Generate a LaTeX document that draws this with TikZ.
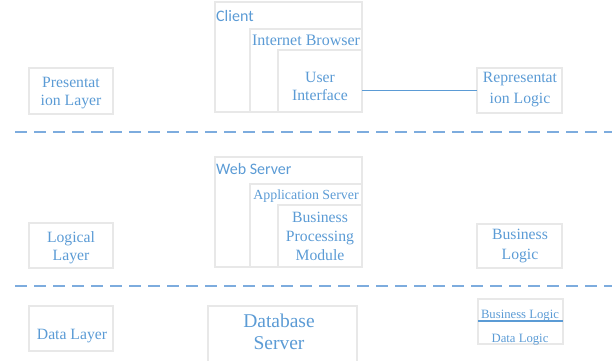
\documentclass[tikz,border=0pt]{standalone}
\usepackage{fontspec}
\setmainfont{Liberation Serif}
\newfontfamily\calib{Carlito}
\definecolor{txtblue}{RGB}{91,155,213}
\definecolor{dashblue}{RGB}{125,172,222}
\definecolor{boxgray}{RGB}{232,232,232}
\definecolor{lineblue}{RGB}{91,155,213}
\begin{document}
\begin{tikzpicture}[x=1pt,y=-1pt,
  box/.style={draw=boxgray, line width=1.3pt, rectangle, inner sep=0pt, outer sep=0pt, anchor=north west},
  lbl/.style={text=txtblue, inner sep=0pt, anchor=base, font=\fontsize{15.7}{18}\selectfont},
  sanslbl/.style={text=txtblue, inner sep=0pt, anchor=base west, font=\calib\fontsize{16}{18}\selectfont},
  smalllbl/.style={text=txtblue, inner sep=0pt, anchor=base, font=\fontsize{12.7}{15}\selectfont},
  biglbl/.style={text=txtblue, inner sep=0pt, anchor=base, font=\fontsize{19.5}{22}\selectfont},
  sep/.style={draw=dashblue, line width=2pt, dash pattern=on 12pt off 7pt},
  conn/.style={draw=lineblue, line width=1.3pt}]
\useasboundingbox (0,0) rectangle (612,360);

% ---- Presentation tier ----
\node[box, minimum width=84pt, minimum height=46pt] (pres) at (29,68) {};
\node[box, minimum width=147pt, minimum height=110pt] (client) at (215,2) {};
\node[box, minimum width=112pt, minimum height=83pt] (browser) at (250,29) {};
\node[box, minimum width=84pt, minimum height=62pt] (ui) at (278,50) {};
\node[box, minimum width=85pt, minimum height=45pt] (rep) at (477,68) {};

\node[lbl] (tpres1) at (71,87) {Presentat};
\node[lbl] (tpres2) at (71,105) {ion Layer};
\node[sanslbl] (tclient) at (216,21) {Client};
\node[lbl, font=\fontsize{16}{18}\selectfont] (tbrowser) at (306,45) {Internet Browser};
\node[lbl] (tui1) at (320,82) {User};
\node[lbl] (tui2) at (320,100) {Interface};
\node[lbl] (trep1) at (520,82) {Representat};
\node[lbl] (trep2) at (520,103) {ion Logic};

\draw[conn] (ui.east |- rep.west) -- (rep.west);

% ---- separator 1 ----
\coordinate (s1l) at (15,132);
\coordinate (s1r) at (612,132);
\draw[sep] (s1l) -- (s1r);

% ---- Logical tier ----
\node[box, minimum width=84pt, minimum height=45pt] (logic) at (29,223) {};
\node[box, minimum width=147pt, minimum height=110pt] (web) at (215,157) {};
\node[box, minimum width=112pt, minimum height=83pt] (app) at (250,184) {};
\node[box, minimum width=84pt, minimum height=62pt] (bpm) at (278,205) {};
\node[box, minimum width=85pt, minimum height=44pt] (busl) at (477,224) {};

\node[lbl] (tlog1) at (71,242) {Logical};
\node[lbl] (tlog2) at (71,260) {Layer};
\node[sanslbl] (tweb) at (216,174) {Web Server};
\node[lbl, font=\fontsize{13.9}{16}\selectfont] (tapp) at (306,199) {Application Server};
\node[lbl] (tbpm1) at (320,222) {Business};
\node[lbl] (tbpm2) at (320,241) {Processing};
\node[lbl] (tbpm3) at (320,260) {Module};
\node[lbl] (tbusl1) at (520,239) {Business};
\node[lbl] (tbusl2) at (520,259) {Logic};

% ---- separator 2 ----
\coordinate (s2l) at (15,286);
\coordinate (s2r) at (612,286);
\draw[sep] (s2l) -- (s2r);

% ---- Data tier ----
\node[box, minimum width=84pt, minimum height=45pt] (data) at (29,306) {};
\node[box, minimum width=149pt, minimum height=62pt] (db) at (208,306) {};
\node[box, minimum width=85pt, minimum height=45pt] (bd) at (478,299) {};

\node[lbl] (tdata) at (72,339) {Data Layer};
\node[biglbl] (tdb1) at (279,327) {Database};
\node[biglbl] (tdb2) at (279,349) {Server};
\node[smalllbl] (tbd1) at (520,318) {Business Logic};
\node[smalllbl] (tbd2) at (520,342) {Data Logic};
\coordinate (bdl) at (478,321);
\coordinate (bdr) at (563,321);
\draw[conn] (bdl) -- (bdr);
\end{tikzpicture}
\end{document}
